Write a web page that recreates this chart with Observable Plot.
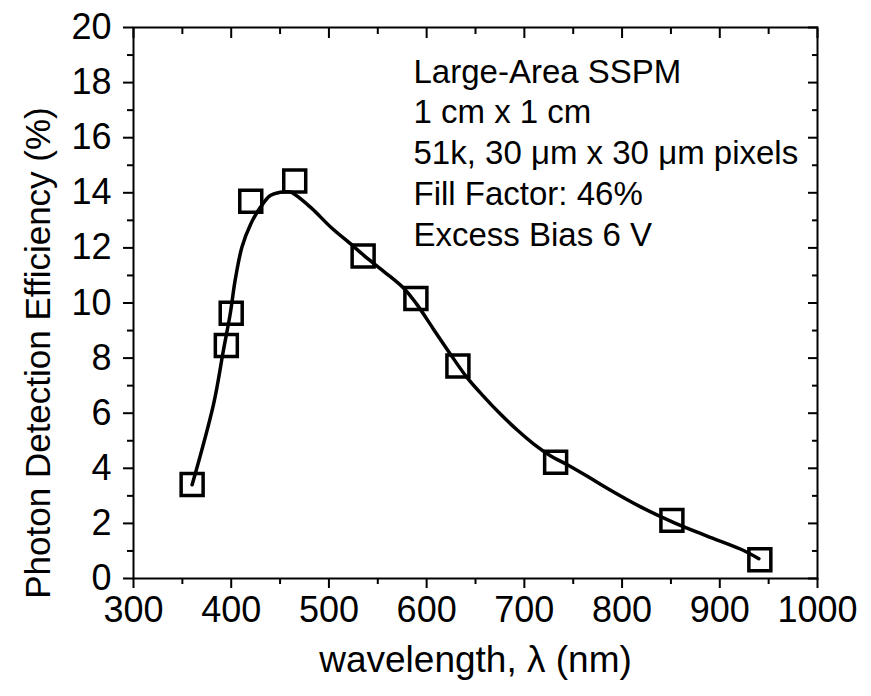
<!DOCTYPE html>
<html>
<head>
<meta charset="utf-8">
<script src="https://cdn.jsdelivr.net/npm/d3@7"></script>
<script src="https://cdn.jsdelivr.net/npm/@observablehq/plot@0.6"></script>
<style>
  html, body { margin: 0; padding: 0; background: white; }
</style>
</head>
<body>
<div id="chart"></div>
<script>
// Measured data points (squares)
const pointWavelength = [360, 395, 400, 420, 465, 535, 589, 632, 732, 851, 941];
const pointPDE        = [3.41, 8.46, 9.63, 13.69, 14.43, 11.71, 10.16, 7.71, 4.22, 2.11, 0.68];

// Fitted curve
const curveWavelength = [360, 382, 392, 399, 404, 411, 420, 430, 440, 450, 456, 461, 481, 502, 524, 536, 556, 577, 590, 607, 624, 641, 658, 676, 693, 710, 727, 744, 764, 786, 819, 853, 887, 921, 940];
const curvePDE        = [3.4, 6.34, 8.28, 9.61, 10.82, 12.03, 12.87, 13.48, 13.9, 14.02, 14.04, 14.02, 13.48, 12.75, 12.09, 11.72, 11.15, 10.52, 9.95, 9.05, 8.16, 7.31, 6.62, 5.95, 5.38, 4.87, 4.45, 4.13, 3.72, 3.25, 2.6, 2.03, 1.54, 1.07, 0.72];

// Ticks
const xMajorTicks = [300, 400, 500, 600, 700, 800, 900, 1000];
const xMinorTicks = [350, 450, 550, 650, 750, 850, 950];
const yMajorTicks = [0, 2, 4, 6, 8, 10, 12, 14, 16, 18, 20];
const yMinorTicks = [1, 3, 5, 7, 9, 11, 13, 15, 17, 19];

// Texts
const xLabel = "wavelength, \u03bb (nm)";
const yLabel = "Photon Detection Efficiency (%)";
const annotationLines = [
  "Large-Area SSPM",
  "1 cm x 1 cm",
  "51k, 30 \u03bcm x 30 \u03bcm pixels",
  "Fill Factor: 46%",
  "Excess Bias 6 V"
];

const points = pointWavelength.map((x, i) => ({x, y: pointPDE[i]}));
const curve = curveWavelength.map((x, i) => ({x, y: curvePDE[i]}));

const font = "'Liberation Sans', Arial, Helvetica, sans-serif";

const chart = Plot.plot({
  width: 871,
  height: 696,
  marginLeft: 133,
  marginRight: 54,
  marginTop: 27,
  marginBottom: 118,
  style: {fontFamily: font, background: "white", color: "black", overflow: "visible"},
  x: {domain: [300, 1000]},
  y: {domain: [0, 20]},
  marks: [
    // bottom axis (outward ticks)
    Plot.axisX({anchor: "bottom", ticks: xMajorTicks, tickSize: 10, tickPadding: 8, strokeWidth: 2, fontSize: 36, label: null, tickFormat: d => String(d)}),
    Plot.axisX({anchor: "bottom", ticks: xMinorTicks, tickSize: 6, strokeWidth: 2, text: null, label: null}),
    // top axis (inward ticks)
    Plot.axisX({anchor: "top", ticks: xMajorTicks, tickSize: 10, dy: 10, strokeWidth: 2, text: null, label: null}),
    Plot.axisX({anchor: "top", ticks: xMinorTicks, tickSize: 6, dy: 6, strokeWidth: 2, text: null, label: null}),
    // left axis (outward ticks)
    Plot.axisY({anchor: "left", ticks: yMajorTicks, tickSize: 10, tickPadding: 12, strokeWidth: 2, fontSize: 36, label: null, tickFormat: d => String(d)}),
    Plot.axisY({anchor: "left", ticks: yMinorTicks, tickSize: 6, strokeWidth: 2, text: null, label: null}),
    // right axis (inward ticks)
    Plot.axisY({anchor: "right", ticks: yMajorTicks, tickSize: 10, dx: -10, strokeWidth: 2, text: null, label: null}),
    Plot.axisY({anchor: "right", ticks: yMinorTicks, tickSize: 6, dx: -6, strokeWidth: 2, text: null, label: null}),
    Plot.frame({stroke: "black", strokeWidth: 2}),
    // fitted curve
    Plot.line(curve, {x: "x", y: "y", curve: "catmull-rom", stroke: "black", strokeWidth: 3.5}),
    // measured squares
    Plot.dot(points, {x: "x", y: "y", symbol: "square", r: 12.4, stroke: "black", strokeWidth: 3.5, fill: "none"}),
    // annotation
    Plot.text([annotationLines.join("\n")], {
      frameAnchor: "top-left", dx: 280, dy: 26,
      textAnchor: "start", lineAnchor: "top", lineHeight: 1.24,
      fontSize: 33, fill: "black"
    }),
    // axis titles
    Plot.text([xLabel], {frameAnchor: "bottom", dy: 82, lineAnchor: "middle", textAnchor: "middle", fontSize: 37, fill: "black"}),
    Plot.text([yLabel], {frameAnchor: "left", dx: -95, dy: 50, rotate: -90, lineAnchor: "middle", textAnchor: "middle", fontSize: 35, fill: "black"})
  ]
});

document.getElementById("chart").appendChild(chart);
</script>
</body>
</html>
